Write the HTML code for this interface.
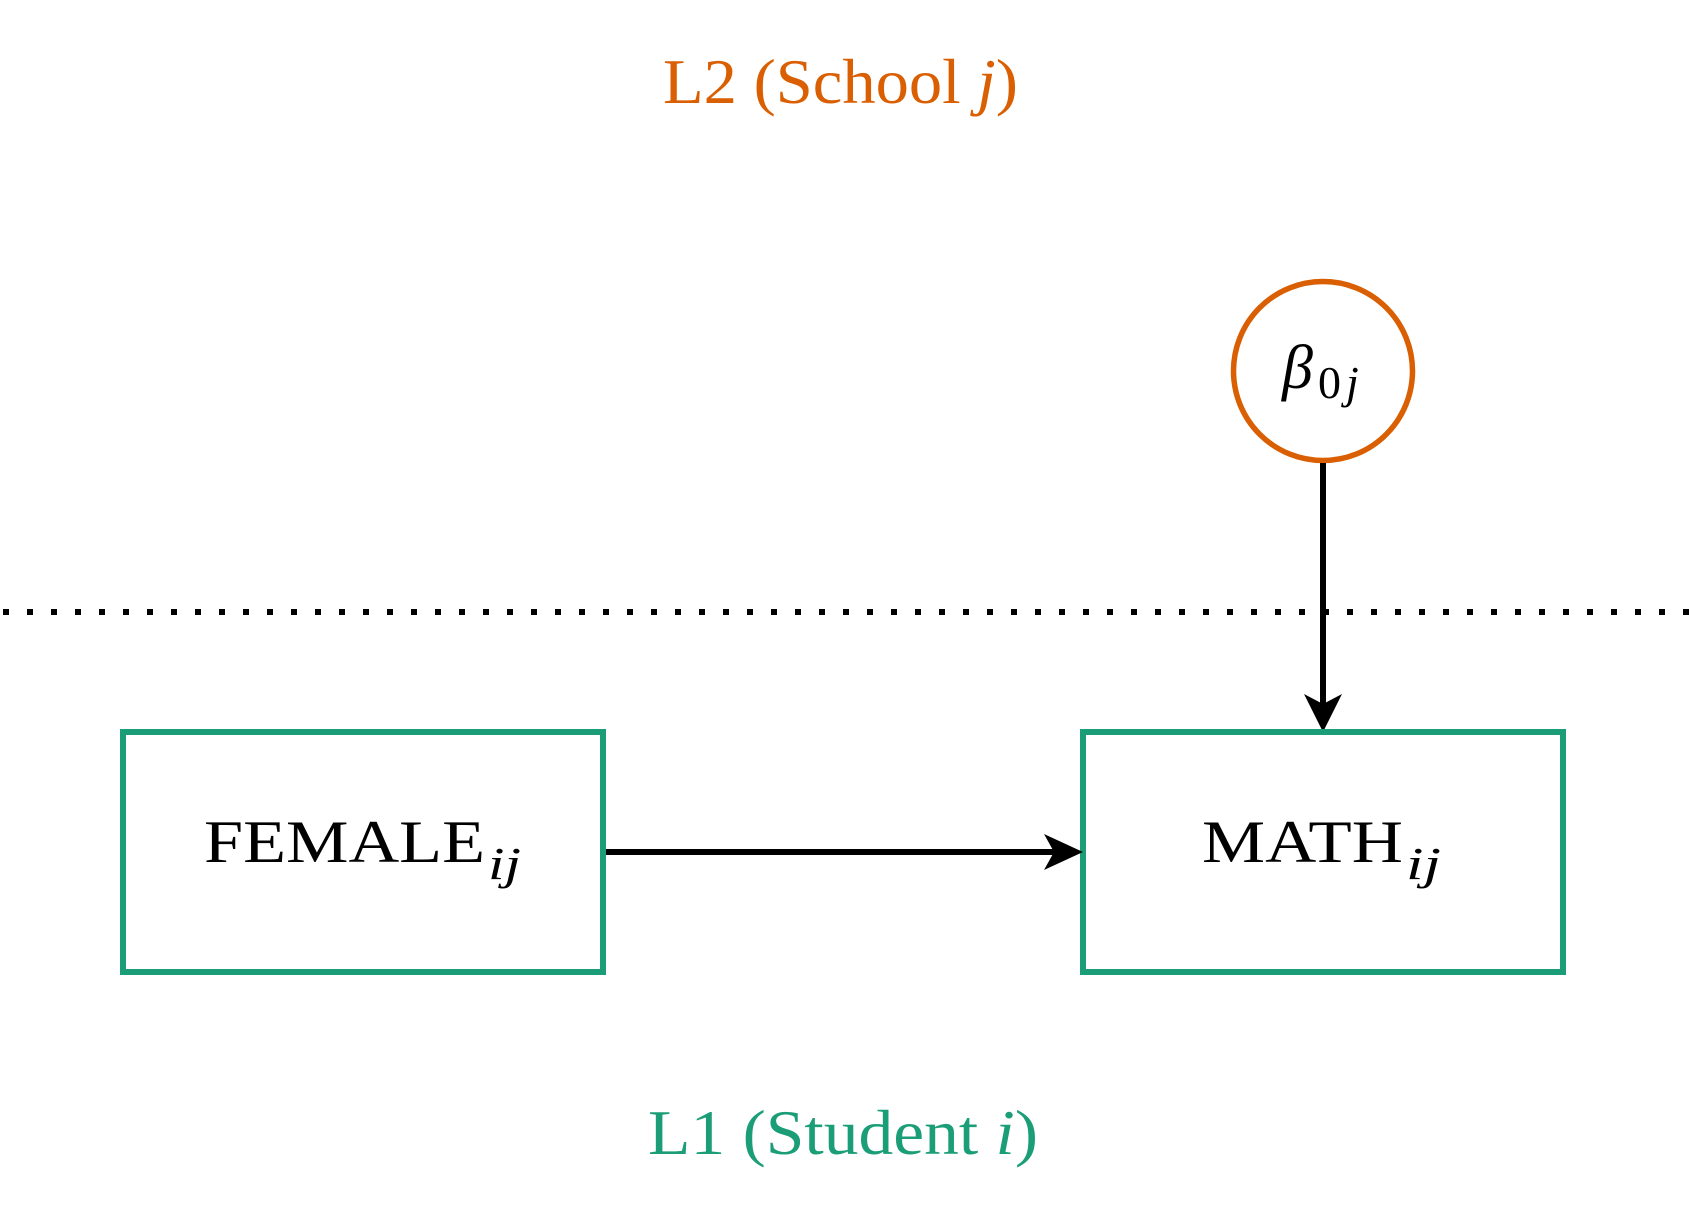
<!DOCTYPE html>
<html>
<head>
<meta charset="utf-8">
<style>
  html, body { margin: 0; padding: 0; background: #ffffff; }
  svg { display: block; }
  text { font-family: "Liberation Serif", "DejaVu Serif", serif; }
</style>
</head>
<body>
<svg xmlns="http://www.w3.org/2000/svg" width="1689" height="1224" viewBox="0 0 1689 1224">
  <rect x="0" y="0" width="1689" height="1224" fill="#ffffff"/>

  <!-- L2 label -->
  <text x="663" y="103" font-size="63" fill="#D95F02" textLength="355" lengthAdjust="spacingAndGlyphs">L2 (School <tspan font-style="italic">j</tspan>)</text>

  <!-- dotted separator -->
  <line x1="3" y1="612" x2="1689" y2="612" stroke="#000000" stroke-width="6" stroke-dasharray="6 18" stroke-linecap="butt"/>

  <!-- beta circle -->
  <circle cx="1323" cy="371" r="89.5" fill="#ffffff" stroke="#D95F02" stroke-width="5.5"/>
  <text x="1282" y="388" font-size="62" font-style="italic" fill="#000000">β</text>
  <text x="1318" y="398" font-size="46" fill="#000000">0</text>
  <text x="1346" y="398" font-size="46" font-style="italic" fill="#000000">j</text>

  <!-- vertical arrow -->
  <line x1="1323" y1="463" x2="1323" y2="706" stroke="#000000" stroke-width="6"/>
  <path d="M1323,732 L1304,694 L1323,704 L1342,694 Z" fill="#000000"/>

  <!-- boxes -->
  <rect x="123" y="732" width="480" height="240" fill="#ffffff" stroke="#1B9E77" stroke-width="6"/>
  <rect x="1083" y="732" width="480" height="240" fill="#ffffff" stroke="#1B9E77" stroke-width="6"/>

  <!-- horizontal arrow -->
  <line x1="606" y1="852" x2="1055" y2="852" stroke="#000000" stroke-width="6"/>
  <path d="M1083,852 L1044,834 L1054,852 L1044,870 Z" fill="#000000"/>

  <!-- box labels -->
  <text x="204" y="862" font-size="60" fill="#000000" textLength="281" lengthAdjust="spacingAndGlyphs">FEMALE</text>
  <text x="488" y="879" font-size="46" font-style="italic" fill="#000000" textLength="33" lengthAdjust="spacingAndGlyphs">ij</text>

  <text x="1202" y="862" font-size="60" fill="#000000" textLength="201" lengthAdjust="spacingAndGlyphs">MATH</text>
  <text x="1406" y="879" font-size="46" font-style="italic" fill="#000000" textLength="35" lengthAdjust="spacingAndGlyphs">ij</text>

  <!-- L1 label -->
  <text x="648" y="1154" font-size="64" fill="#1B9E77" textLength="390" lengthAdjust="spacingAndGlyphs">L1 (Student <tspan font-style="italic">i</tspan>)</text>
</svg>
</body>
</html>
